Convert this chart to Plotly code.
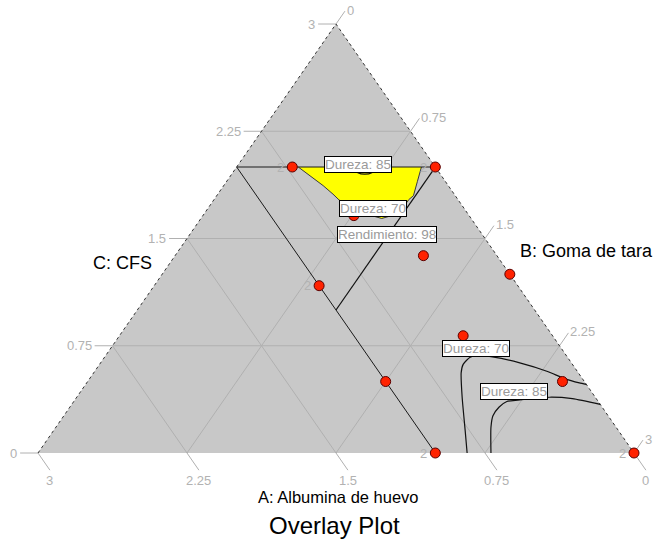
import plotly.graph_objects as go

# ---------------- data (mixture components, total = 3) ----------------
TOTAL = 3.0
tick_vals = [0, 0.75, 1.5, 2.25, 3]
tick_text = ["0", "0.75", "1.5", "2.25", "3"]

# design points
pts_A = [0.72, 0.00, 0.58, 0.37, 0.00, 0.45, 0.11, 1.00, 1.00, 1.00, 0.00]
pts_B = [0.28, 1.00, 0.76, 1.25, 1.75, 1.73, 2.39, 0.83, 1.50, 2.00, 3.00]
pts_C = [2.00, 2.00, 1.66, 1.38, 1.25, 0.82, 0.50, 1.17, 0.50, 0.00, 0.00]
pts_rep = [2, 2, 1, 1, 1, 1, 1, 2, 1, 2, 2]

# constraint lines: C <= 2, A <= 1
con_A = [1.0, 0.0, None, 1.0, 1.0]
con_B = [0.0, 1.0, None, 0.0, 2.0]
con_C = [2.0, 2.0, None, 2.0, 0.0]

# yellow overlay (feasible) region
yel_A = [0.69, 0.66, 0.63, 0.61, 0.60, 0.57, 0.53, 0.49, 0.45, 0.39, 0.31, 0.25, 0.21, 0.14, 0.07]
yel_B = [0.31, 0.40, 0.50, 0.58, 0.63, 0.71, 0.79, 0.85, 0.91, 0.95, 0.98, 0.98, 0.99, 0.96, 0.93]
yel_C = [2.00, 1.94, 1.87, 1.81, 1.77, 1.72, 1.68, 1.66, 1.64, 1.66, 1.71, 1.77, 1.80, 1.90, 2.00]

# Dureza 85 (top, small arc)
d85t_A = [0.42, 0.41, 0.38, 0.34, 0.29]
d85t_B = [0.58, 0.63, 0.67, 0.70, 0.71]
d85t_C = [2.00, 1.96, 1.95, 1.96, 2.00]

# Rendimiento 98
ren_A = [0.03, 1.00]
ren_B = [1.00, 1.00]
ren_C = [1.97, 1.00]

# Dureza 70 (bottom right)
d70_A = [0.84, 0.77, 0.67, 0.59, 0.55, 0.49, 0.45, 0.37, 0.26, 0.15, 0.09, 0.03, 0.00]
d70_B = [2.16, 2.07, 1.94, 1.85, 1.83, 1.84, 1.87, 1.96, 2.11, 2.28, 2.39, 2.48, 2.52]
d70_C = [0.00, 0.16, 0.39, 0.56, 0.62, 0.67, 0.68, 0.67, 0.63, 0.57, 0.52, 0.49, 0.48]

# Dureza 85 (bottom right)
d85_A = [0.72, 0.63, 0.58, 0.52, 0.46, 0.40, 0.23, 0.12, 0.00]
d85_B = [2.28, 2.19, 2.16, 2.16, 2.18, 2.23, 2.38, 2.50, 2.66]
d85_C = [0.00, 0.18, 0.26, 0.32, 0.36, 0.37, 0.39, 0.38, 0.34]

# contour labels
lab_text = ["Dureza: 85", "Dureza: 70", "Rendimiento: 98", "Dureza: 70", "Dureza: 85"]
lab_A = [0.38, 0.46, 0.48, 0.43, 0.39]
lab_B = [0.60, 0.83, 0.99, 1.84, 2.18]
lab_C = [2.02, 1.71, 1.53, 0.73, 0.43]

# ---------------- projection of the ternary onto the page ----------------
def tx(B, C):
    return [None if b is None else b + c / 2 for b, c in zip(B, C)]

def ty(C):
    return [None if c is None else c for c in C]

FONT = "Liberation Sans, Arial, sans-serif"
GRID = "#b0b0b0"
TICKC = "#b2b2b2"

fig = go.Figure()

# triangle fill
fig.add_trace(go.Scatter(x=tx([0, TOTAL, 0, 0], [0, 0, TOTAL, 0]), y=ty([0, 0, TOTAL, 0]),
                         mode="lines", fill="toself", fillcolor="#c8c8c8",
                         line=dict(width=0, color="#c8c8c8"), hoverinfo="skip"))

# grid lines with tick stubs
gx, gy = [], []
annos = []
STUB = 0.09
for v, t in zip(tick_vals, tick_text):
    # C = v (horizontal), stub to the left (B negative)
    if 0 < v < TOTAL:
        B = [-STUB, TOTAL - v]
    else:
        B = [-STUB, 0]
    C = [v, v]
    gx += tx(B, C) + [None]
    gy += ty(C) + [None]
    annos.append(dict(x=tx([-STUB], [v])[0], y=v, text=t, xanchor="right", yanchor="middle",
                      xshift=-1, showarrow=False, font=dict(size=13, color=TICKC, family=FONT)))
    # A = v, stub below the base (C negative)
    a = TOTAL - v  # value shown at bottom increases to the left
    Cs = [-0.12, TOTAL - a] if 0 < a < TOTAL else [-0.12, 0]
    Bs = [TOTAL - a - c for c in Cs]
    gx += tx(Bs, Cs) + [None]
    gy += ty(Cs) + [None]
    annos.append(dict(x=tx([Bs[0]], [Cs[0]])[0], y=Cs[0], text=tick_text[tick_vals.index(a)],
                      xanchor="center", yanchor="top", yshift=-1, showarrow=False,
                      font=dict(size=13, color=TICKC, family=FONT)))
    # B = v, stub beyond the right edge (A negative)
    b = v
    Cb = [TOTAL - b + STUB, 0] if 0 < b < TOTAL else [TOTAL - b + STUB, TOTAL - b]
    Bb = [b, b]
    gx += tx(Bb, Cb) + [None]
    gy += ty(Cb) + [None]
    annos.append(dict(x=tx([b], [Cb[0]])[0], y=Cb[0], text=t, xanchor="left", yanchor="middle",
                      xshift=0, yshift=1, showarrow=False, font=dict(size=13, color=TICKC, family=FONT)))

fig.add_trace(go.Scatter(x=gx, y=gy, mode="lines", line=dict(color=GRID, width=1), hoverinfo="skip"))

# triangle edges (left and right, dotted)
fig.add_trace(go.Scatter(x=tx([0, 0, TOTAL], [0, TOTAL, 0]), y=ty([0, TOTAL, 0]), mode="lines",
                         line=dict(color="#333333", width=1, dash="dot"), hoverinfo="skip"))

# yellow overlay region
fig.add_trace(go.Scatter(x=tx(yel_B, yel_C), y=ty(yel_C), mode="lines", fill="toself",
                         fillcolor="#ffff00", line=dict(color="#3a3a3a", width=1), hoverinfo="skip"))

# constraint lines
fig.add_trace(go.Scatter(x=tx(con_B, con_C), y=ty(con_C), mode="lines",
                         line=dict(color="#1a1a1a", width=1), hoverinfo="skip"))

# contour lines
for B, C in [(d85t_B, d85t_C), (ren_B, ren_C), (d70_B, d70_C), (d85_B, d85_C)]:
    fig.add_trace(go.Scatter(x=tx(B, C), y=ty(C), mode="lines",
                             line=dict(color="#111111", width=1.2, shape="spline", smoothing=0.6),
                             hoverinfo="skip"))

# design points
fig.add_trace(go.Scatter(x=tx(pts_B, pts_C), y=ty(pts_C), mode="markers",
                         marker=dict(size=10, color="#ff2200", line=dict(color="#5a0000", width=1)),
                         hoverinfo="skip"))

# replicate counts
for B, C, r in zip(pts_B, pts_C, pts_rep):
    if r > 1:
        annos.append(dict(x=tx([B], [C])[0], y=C, text=str(r), xanchor="right", yanchor="middle",
                          xshift=-6, showarrow=False, font=dict(size=13, color=TICKC, family=FONT)))

# contour labels
for t, B, C in zip(lab_text, lab_B, lab_C):
    annos.append(dict(x=tx([B], [C])[0], y=C, text=t, showarrow=False, xanchor="center",
                      yanchor="middle", bgcolor="white", bordercolor="black", borderwidth=1,
                      borderpad=0, font=dict(size=13.5, color="#9a9a9a", family=FONT)))

# axis titles and chart title
annos += [
    dict(xref="paper", yref="paper", x=338 / 659, y=1 - 497 / 542, text="A: Albumina de huevo",
         showarrow=False, xanchor="center", yanchor="middle", font=dict(size=16.5, color="black", family=FONT)),
    dict(xref="paper", yref="paper", x=518 / 659, y=1 - 251 / 542, text="B: Goma de tara",
         showarrow=False, xanchor="left", yanchor="middle", font=dict(size=18, color="black", family=FONT)),
    dict(xref="paper", yref="paper", x=123 / 659, y=1 - 263 / 542, text="C: CFS",
         showarrow=False, xanchor="center", yanchor="middle", font=dict(size=18, color="black", family=FONT)),
    dict(xref="paper", yref="paper", x=334 / 659, y=1 - 525 / 542, text="Overlay Plot",
         showarrow=False, xanchor="center", yanchor="middle", font=dict(size=24, color="black", family=FONT)),
]

fig.update_layout(
    width=659, height=542, margin=dict(l=0, r=0, t=0, b=0),
    paper_bgcolor="white", plot_bgcolor="white", showlegend=False,
    xaxis=dict(range=[-38 / 198.667, (659 - 38) / 198.667], visible=False, fixedrange=True),
    yaxis=dict(range=[-(542 - 453) / 143.0, 453 / 143.0], visible=False, fixedrange=True),
    annotations=annos,
)

fig.write_html("out.html")
